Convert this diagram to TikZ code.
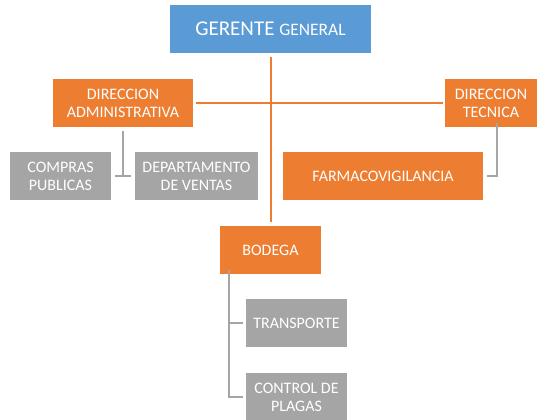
\documentclass[tikz,border=0pt]{standalone}
\usepackage{fontspec}
\setmainfont{Carlito}
\definecolor{azul}{HTML}{5B9BD5}
\definecolor{naranja}{HTML}{ED7D31}
\definecolor{gris}{HTML}{A5A5A5}
\tikzset{
	caja/.style={minimum height=48pt, inner sep=0pt, text=white, align=center,
		font=\fontsize{16}{18}\selectfont},
	cajaazul/.style={caja, fill=azul},
	cajanaranja/.style={caja, fill=naranja},
	cajagris/.style={caja, fill=gris},
	lineanaranja/.style={draw=naranja, line width=2pt},
	lineagris/.style={draw=gris, line width=2pt},
}
\begin{document}
\begin{tikzpicture}[x=1pt, y=-1pt]
	
	% 画布大小
	\useasboundingbox (0,0) rectangle (538,420);
	
	% 第一层
	\node[cajaazul, minimum width=201pt] (gerente) at (270.5,29)
	{\fontsize{21}{24}\selectfont GERENTE \fontsize{17.5}{24}\selectfont GENERAL};
	
	% 第二层
	\node[cajanaranja, minimum width=140pt] (admin) at (123,103) {DIRECCION\\ADMINISTRATIVA};
	\node[cajanaranja, minimum width=92pt] (tecnica) at (491,103) {DIRECCION\\TECNICA};
	
	% 第三层
	\node[cajagris, minimum width=101pt] (compras) at (60.5,176) {COMPRAS\\PUBLICAS};
	\node[cajagris, minimum width=123pt] (ventas) at (196.5,176) {DEPARTAMENTO\\DE VENTAS};
	\node[cajanaranja, minimum width=200pt] (farmaco) at (383,176) {FARMACOVIGILANCIA};
	\node[cajanaranja, minimum width=101pt] (bodega) at (270.5,250) {BODEGA};
	
	% 第四层
	\node[cajagris, minimum width=101pt] (transporte) at (296.5,323) {TRANSPORTE};
	\node[cajagris, minimum width=101pt] (plagas) at (296.5,397) {CONTROL DE\\PLAGAS};
	
	% 橙色连线
	\draw[lineanaranja, shorten <=4pt, shorten >=4pt] (gerente.south) -- (bodega.north);
	\draw[lineanaranja, shorten <=3pt, shorten >=2pt] (admin.east) -- (tecnica.west);
	
	% 灰色连线
	\draw[lineagris, shorten <=4pt] (admin.south) -- (admin.south |- compras.east);
	\draw[lineagris, shorten <=4pt, shorten >=4pt] (compras.east) -- (ventas.west);
	\draw[lineagris, shorten >=4pt] ([xshift=6pt,yshift=4pt]tecnica.south) |- (farmaco.east);
	\draw[lineagris, shorten >=3pt] ([xshift=9pt,yshift=4pt]bodega.south west) |- (plagas.west);
	\draw[lineagris, shorten >=3pt] ([xshift=9pt]bodega.south west |- transporte.west) -- (transporte.west);
	
\end{tikzpicture}
\end{document}
